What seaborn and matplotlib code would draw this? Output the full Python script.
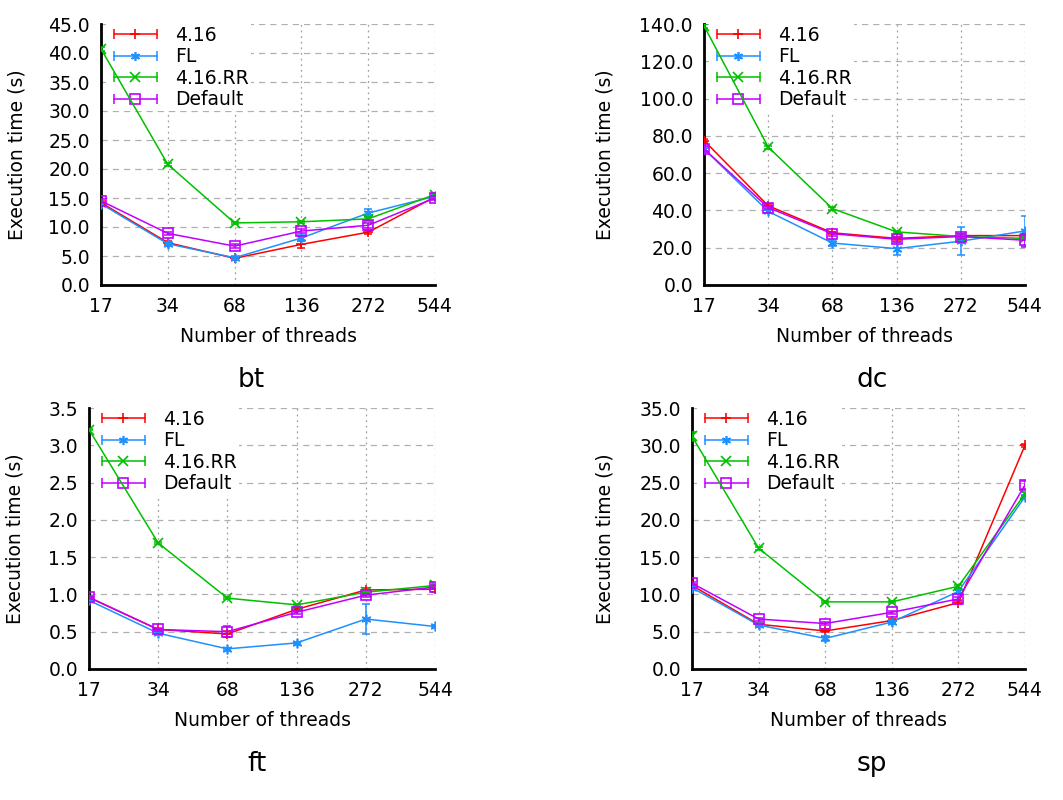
"""Execution time vs. number of threads for four NPB benchmarks."""

import matplotlib
matplotlib.use("Agg")
import matplotlib.pyplot as plt
from matplotlib.lines import Line2D
from matplotlib.legend_handler import HandlerLine2D, HandlerTuple
import seaborn as sns

THREADS = ["17", "34", "68", "136", "272", "544"]
SERIES = ["4.16", "FL", "4.16.RR", "Default"]

BT_MEAN = {
    "4.16": [14.2, 7.3, 4.6, 7.0, 9.1, 15.2],
    "FL": [14.0, 7.1, 4.7, 8.1, 12.4, 15.3],
    "4.16.RR": [40.7, 20.8, 10.7, 10.9, 11.4, 15.6],
    "Default": [14.5, 8.9, 6.7, 9.3, 10.3, 15.0],
}
BT_ERR = {
    "4.16": [0.3, 0.3, 0.3, 0.6, 0.3, 0.3],
    "FL": [0.3, 0.3, 0.3, 0.5, 0.7, 0.3],
    "4.16.RR": [0.3, 0.3, 0.2, 0.2, 0.3, 0.3],
    "Default": [0.4, 0.3, 0.3, 0.4, 0.4, 0.4],
}

DC_MEAN = {
    "4.16": [77.5, 42.5, 28.0, 25.0, 26.5, 26.5],
    "FL": [73.0, 39.5, 22.5, 19.5, 23.5, 29.0],
    "4.16.RR": [139.0, 74.0, 41.0, 28.5, 26.0, 25.0],
    "Default": [73.0, 41.5, 27.5, 24.5, 26.0, 24.0],
}
DC_ERR = {
    "4.16": [1.0, 0.8, 0.6, 0.6, 0.6, 0.6],
    "FL": [1.0, 0.8, 1.5, 3.5, 7.5, 8.0],
    "4.16.RR": [1.0, 0.8, 0.6, 0.6, 0.6, 0.6],
    "Default": [1.5, 0.8, 1.0, 1.5, 1.5, 3.5],
}

FT_MEAN = {
    "4.16": [0.96, 0.53, 0.47, 0.80, 1.06, 1.07],
    "FL": [0.92, 0.48, 0.27, 0.35, 0.67, 0.57],
    "4.16.RR": [3.21, 1.69, 0.95, 0.86, 1.03, 1.12],
    "Default": [0.96, 0.53, 0.50, 0.76, 0.99, 1.10],
}
FT_ERR = {
    "4.16": [0.01, 0.01, 0.04, 0.02, 0.03, 0.04],
    "FL": [0.01, 0.01, 0.01, 0.01, 0.20, 0.02],
    "4.16.RR": [0.01, 0.01, 0.01, 0.01, 0.01, 0.02],
    "Default": [0.02, 0.02, 0.07, 0.02, 0.02, 0.03],
}

SP_MEAN = {
    "4.16": [11.2, 6.0, 5.1, 6.5, 8.9, 30.0],
    "FL": [10.9, 5.9, 4.1, 6.3, 10.4, 23.1],
    "4.16.RR": [31.2, 16.2, 9.0, 9.0, 11.1, 23.5],
    "Default": [11.5, 6.7, 6.1, 7.6, 9.4, 24.7],
}
SP_ERR = {
    "4.16": [0.2, 0.2, 0.2, 0.2, 0.2, 0.2],
    "FL": [0.2, 0.2, 0.3, 0.2, 0.3, 0.3],
    "4.16.RR": [0.6, 0.2, 0.1, 0.1, 0.2, 0.3],
    "Default": [0.2, 0.2, 0.2, 0.2, 0.2, 0.5],
}

COLORS = {"4.16": "#ff0000", "FL": "#1e90ff", "4.16.RR": "#00c000", "Default": "#c000ff"}
MARKERS = {"4.16": "+", "FL": (6, 2, 0), "4.16.RR": "x", "Default": "s"}

W, H = 1063, 800
FS = 13.5

# name, mean, err, ymax, ystep, axes box (left, top, right, bottom) in px,
# title x px, ylabel x px
PANELS = [
    ("bt", BT_MEAN, BT_ERR, 45.0, 5.0, (101, 24, 435, 285), 251, 17),
    ("dc", DC_MEAN, DC_ERR, 140.0, 20.0, (704, 24, 1025, 285), 872, 605),
    ("ft", FT_MEAN, FT_ERR, 3.5, 0.5, (89, 408, 435, 669), 257, 15),
    ("sp", SP_MEAN, SP_ERR, 35.0, 5.0, (692, 408, 1025, 669), 872, 605),
]


def draw_panel(fig, name, mean, err, ymax, ystep, box, title_x, ylab_x):
    l, t, r, b = box
    ax = fig.add_axes([l / W, (H - b) / H, (r - l) / W, (b - t) / H])
    ax.set_axisbelow(True)
    xs = list(range(len(THREADS)))

    for s in SERIES:
        c = COLORS[s]
        ax.errorbar(xs, mean[s], yerr=err[s], fmt="none", ecolor=c,
                    elinewidth=1.1, capsize=3, capthick=1.1, zorder=3)
        sns.lineplot(x=xs, y=mean[s], color=c, marker=MARKERS[s], ax=ax,
                     markersize=7, markeredgewidth=1.2, linewidth=1.1,
                     markerfacecolor="none" if s == "Default" else c,
                     markeredgecolor=c, zorder=3)

    ax.set_xlim(0, len(THREADS) - 1)
    ax.set_ylim(0, ymax)
    ax.set_xticks(xs)
    ax.set_xticklabels(THREADS)
    n = int(round(ymax / ystep))
    ax.set_yticks([i * ystep for i in range(n + 1)])
    ax.yaxis.set_major_formatter(matplotlib.ticker.FormatStrFormatter("%.1f"))
    ax.tick_params(direction="in", length=4, width=1.8, labelsize=FS,
                   colors="black")
    ax.tick_params(axis="x", pad=9)
    ax.tick_params(axis="y", pad=8)

    ax.yaxis.grid(True, linestyle=(0, (5, 4)), color="#b0b0b0", linewidth=0.9)
    ax.xaxis.grid(True, linestyle=(0, (1.5, 3)), color="#a0a0a0", linewidth=0.9)
    for side in ("top", "right"):
        ax.spines[side].set_visible(False)
    for side in ("left", "bottom"):
        ax.spines[side].set_linewidth(2.0)
        ax.spines[side].set_color("black")

    ax.set_xlabel("Number of threads", fontsize=FS, color="black")
    ax.xaxis.set_label_coords(0.5, -52 / (b - t))
    ax.xaxis.label.set_va("center")
    fig.text(ylab_x / W, (H - (t + b) / 2) / H, "Execution time (s)",
             rotation=90, ha="center", va="center", fontsize=FS, color="black")
    fig.text(title_x / W, (H - (b + 95)) / H, name, ha="center", va="center",
             fontsize=19, color="black")

    handles, hmap = [], {}
    for s in SERIES:
        c = COLORS[s]
        caps = Line2D([], [], color=c, marker="|", markersize=7,
                      markeredgewidth=1.1, linewidth=1.1)
        mid = Line2D([], [], color=c, linestyle="none", marker=MARKERS[s],
                     markersize=6.5, markeredgewidth=1.2,
                     markerfacecolor="none" if s == "Default" else c,
                     markeredgecolor=c)
        hmap[caps] = HandlerLine2D(numpoints=2)
        hmap[mid] = HandlerLine2D(numpoints=1)
        handles.append((caps, mid))
    hmap[tuple] = HandlerTuple(ndivide=1, pad=0)
    leg = ax.legend(handles, SERIES, handler_map=hmap, loc="upper left",
                    bbox_to_anchor=(5 / (r - l), 1.0), borderaxespad=0,
                    borderpad=0.1, handlelength=2.9, handletextpad=0.7,
                    labelspacing=0.13, fontsize=FS, frameon=True,
                    fancybox=False, framealpha=1.0, edgecolor="none",
                    facecolor="white")
    for txt in leg.get_texts():
        txt.set_color("black")
    leg.set_zorder(2)


def main():
    sns.set_style("white")
    plt.rcParams["font.family"] = ["DejaVu Sans"]
    plt.rcParams["text.color"] = "black"
    fig = plt.figure(figsize=(W / 100, H / 100), dpi=100)
    for p in PANELS:
        draw_panel(fig, *p)
    fig.savefig("out.png", dpi=100)


if __name__ == "__main__":
    main()
